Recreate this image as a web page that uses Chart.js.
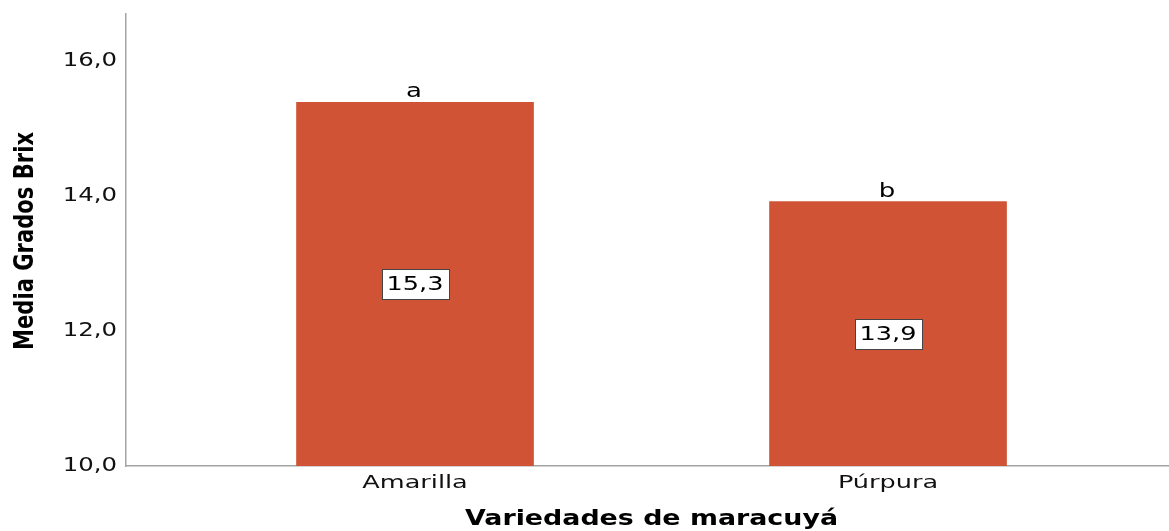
<!DOCTYPE html>
<html>
<head>
<meta charset="utf-8">
<script src="https://cdn.jsdelivr.net/npm/chart.js@4"></script>
<style>
  html, body { margin: 0; padding: 0; background: #fff; }
  #wrap { width: 1169px; height: 531px; }
</style>
</head>
<body>
<div id="wrap"><canvas id="barChart"></canvas></div>
<script>
const categories = ['Amarilla', 'Púrpura'];
const means = [15.39, 13.92];
const valueLabels = ['15,3', '13,9'];
const groupLetters = ['a', 'b'];
const yTicks = [10, 12, 14, 16];

const barColor = '#D05336';
const textFont = '"DejaVu Sans", Verdana, sans-serif';
// SPSS text is drawn wide, so tick labels get stretched sideways
const tickStretch = { x: 1.42, y: 1.22 };

const stretchTicks = {
    id: 'stretchTicks',
    afterLayout(chart) {
        Object.values(chart.scales).forEach(scale => {
            if (scale._stretched) return;
            const orig = scale.drawLabels;
            scale.drawLabels = function (area) {
                const ctx = this.ctx;
                const sx = tickStretch[this.id] || 1;
                const fill = ctx.fillText;
                ctx.fillText = function (text, x, y) {
                    this.save();
                    this.translate(x, y);
                    this.scale(sx, 1);
                    fill.call(this, text, 0, 0);
                    this.restore();
                };
                orig.call(this, area);
                ctx.fillText = fill;
            };
            scale._stretched = true;
        });
    }
};

// draw text squeezed or stretched to a given width
function fitText(ctx, text, x, y, width) {
    const w = ctx.measureText(text).width;
    ctx.save();
    ctx.translate(x, y);
    ctx.scale(width / w, 1);
    ctx.fillText(text, 0, 0);
    ctx.restore();
}

const annotations = {
    id: 'annotations',
    afterDatasetsDraw(chart) {
        const ctx = chart.ctx;
        const base = chart.scales.y.getPixelForValue(yTicks[0]);
        const meta = chart.getDatasetMeta(0);
        ctx.save();
        ctx.textAlign = 'center';
        meta.data.forEach((bar, i) => {
            const { x, y } = bar.getProps(['x', 'y'], true);
            ctx.font = '20px ' + textFont;

            // letter over the bar
            ctx.fillStyle = '#000';
            ctx.textBaseline = 'alphabetic';
            const lw = ctx.measureText(groupLetters[i]).width * 1.3;
            fitText(ctx, groupLetters[i], x - 1, y - 5, lw);

            // value box in the middle of the bar
            const midY = (y + base) / 2;
            const w = 67, h = 30;
            const bx = Math.round(x - w / 2) + 0.5;
            const by = Math.round(midY - h / 2) + 0.5;
            ctx.fillStyle = '#fff';
            ctx.fillRect(bx, by, w, h);
            ctx.strokeStyle = '#444';
            ctx.lineWidth = 1;
            ctx.strokeRect(bx, by, w, h);
            ctx.fillStyle = '#000';
            ctx.textBaseline = 'middle';
            ctx.font = '19px ' + textFont;
            fitText(ctx, valueLabels[i], x, midY + 1, 57);
        });
        ctx.restore();
    },
    afterDraw(chart) {
        const ctx = chart.ctx;
        ctx.save();
        ctx.fillStyle = '#000';
        ctx.textAlign = 'left';
        ctx.textBaseline = 'alphabetic';

        // x title, wide
        ctx.font = 'bold 22px ' + textFont;
        fitText(ctx, 'Variedades de maracuyá', 465, 525, 373);

        // y title, narrow
        ctx.font = 'bold 26px ' + textFont;
        ctx.translate(33, 0);
        ctx.rotate(-Math.PI / 2);
        fitText(ctx, 'Media Grados Brix', -350, 0, 218);
        ctx.restore();
    }
};

new Chart(document.getElementById('barChart'), {
    type: 'bar',
    data: {
        datasets: [{
            data: means.map((m, i) => ({ x: i, y: m })),
            backgroundColor: barColor,
            borderWidth: 0,
            barThickness: 237
        }]
    },
    options: {
        responsive: true,
        maintainAspectRatio: false,
        animation: false,
        events: [],
        layout: { padding: { top: 14, left: 0, right: 0, bottom: 0 } },
        plugins: {
            legend: { display: false },
            tooltip: { enabled: false }
        },
        scales: {
            x: {
                type: 'linear',
                offset: false,
                min: -0.611,
                max: 1.594,
                grid: { display: false, drawTicks: false },
                border: { display: true, color: '#a3a3a3', width: 1.5 },
                afterBuildTicks: scale => { scale.ticks = categories.map((c, i) => ({ value: i })); },
                afterFit: scale => {
                    scale.height = 65;
                    scale.paddingLeft = 0;
                    scale.paddingRight = 0;
                },
                ticks: {
                    color: '#111',
                    padding: 7,
                    maxRotation: 0,
                    font: { family: textFont, size: 18 },
                    callback: v => categories[v] ?? ''
                }
            },
            y: {
                min: 10,
                max: 16.7,
                grid: { display: false, drawTicks: false },
                border: { display: true, color: '#a3a3a3', width: 1.5 },
                afterBuildTicks: scale => { scale.ticks = yTicks.map(v => ({ value: v })); },
                afterFit: scale => {
                    scale.width = 126;
                    scale.paddingTop = 0;
                    scale.paddingBottom = 0;
                },
                ticks: {
                    color: '#111',
                    padding: 9,
                    font: { family: textFont, size: 20 },
                    callback: v => v.toFixed(1).replace('.', ',')
                }
            }
        }
    },
    plugins: [stretchTicks, annotations]
});
</script>
</body>
</html>
